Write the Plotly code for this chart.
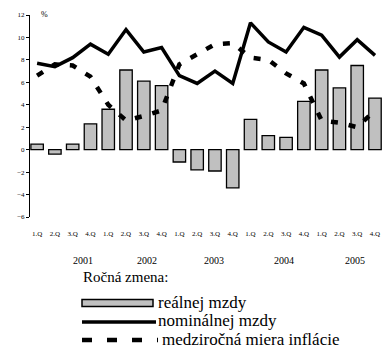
import plotly.graph_objects as go

# Quarterly data, 2001-2005 (year-on-year change, %)
quarters = ["1.Q", "2.Q", "3.Q", "4.Q"] * 5
years = ["2001", "2002", "2003", "2004", "2005"]
real_wage = [0.5, -0.4, 0.5, 2.3, 3.6, 7.1, 6.1, 5.7,
             -1.1, -1.8, -1.9, -3.4, 2.7, 1.25, 1.1, 4.3,
             7.1, 5.5, 7.5, 4.6]
nominal_wage = [7.7, 7.4, 8.2, 9.4, 8.5, 10.7, 8.7, 9.1,
                6.6, 5.9, 7.0, 5.9, 11.3, 9.6, 8.7, 10.9,
                10.2, 8.25, 9.8, 8.4]
inflation = [6.6, 7.6, 7.5, 6.5, 4.0, 2.6, 3.0, 3.5,
             7.6, 8.5, 9.4, 9.5, 8.2, 8.0, 6.8, 5.9,
             2.6, 2.4, 2.0, 3.5]
year_label_pos = [2.6, 6.2, 9.95, 13.9, 17.85]

legend_title = "Ročná zmena:"
legend_names = ["reálnej mzdy", "nominálnej mzdy", "medziročná miera inflácie"]

W, H = 383, 350
M_L, M_R, M_T, M_B = 30, 0, 15, 133
PLOT_W = W - M_L - M_R
PLOT_H = H - M_T - M_B
SERIF = "Liberation Serif"


def px_x(px):
    return (px - M_L) / PLOT_W


def px_y(py):
    return (H - M_B - py) / PLOT_H


idx = list(range(len(quarters)))

fig = go.Figure()
fig.add_trace(go.Bar(
    x=idx, y=real_wage, width=0.7,
    marker=dict(color="#c0c0c0", line=dict(color="black", width=1.3)),
    showlegend=False,
))
fig.add_trace(go.Scatter(
    x=idx, y=nominal_wage, mode="lines",
    line=dict(color="black", width=3.5),
    showlegend=False,
))
fig.add_trace(go.Scatter(
    x=idx, y=inflation, mode="lines",
    line=dict(color="black", width=4.5, dash="7px,11px"),
    showlegend=False,
))

shapes = [
    # legend swatches
    dict(type="rect", xref="paper", yref="paper",
         x0=px_x(82), x1=px_x(153), y0=px_y(306.5), y1=px_y(299.5),
         fillcolor="#c0c0c0", line=dict(color="black", width=1.5)),
    dict(type="line", xref="paper", yref="paper",
         x0=px_x(82), x1=px_x(156), y0=px_y(322), y1=px_y(322),
         line=dict(color="black", width=3.5)),
    dict(type="line", xref="paper", yref="paper",
         x0=px_x(82), x1=px_x(158), y0=px_y(340), y1=px_y(340),
         line=dict(color="black", width=4.5, dash="10px,15px")),
]

annotations = [
    dict(text="%", xref="paper", yref="paper", x=px_x(39), y=px_y(8),
         showarrow=False, font=dict(family=SERIF, size=8, color="black")),
    dict(text=legend_title, xref="paper", yref="paper", x=px_x(81), y=px_y(277),
         xanchor="left", yanchor="middle", showarrow=False,
         font=dict(family=SERIF, size=15, color="black")),
]
for name, py, px in zip(legend_names, [302, 320, 339], [156, 156, 160]):
    annotations.append(dict(
        text=name, xref="paper", yref="paper", x=px_x(px), y=px_y(py),
        xanchor="left", yanchor="middle", showarrow=False,
        font=dict(family=SERIF, size=17, color="black")))
for yr, pos in zip(years, year_label_pos):
    annotations.append(dict(
        text=yr, xref="x", yref="paper", x=pos, y=px_y(260),
        xanchor="center", yanchor="middle", showarrow=False,
        font=dict(family=SERIF, size=10, color="black")))

fig.update_layout(
    width=W, height=H,
    margin=dict(l=M_L, r=M_R, t=M_T, b=M_B),
    paper_bgcolor="white", plot_bgcolor="white",
    bargap=0.3,
    xaxis=dict(
        range=[-0.4, 19.45],
        tickmode="array", tickvals=idx, ticktext=quarters,
        ticks="", showline=False, showgrid=False, zeroline=False,
        ticklabelstandoff=11,
        tickfont=dict(family=SERIF, size=7, color="black"),
    ),
    # axis line at y = 0 with ticks between quarters
    xaxis2=dict(
        overlaying="x", anchor="free", position=6 / 18,
        range=[-0.4, 19.45],
        tickmode="array", tickvals=[i + 0.5 for i in idx],
        ticks="outside", ticklen=3, tickcolor="black", tickwidth=1,
        showticklabels=False, showline=True, linecolor="black", linewidth=1,
        showgrid=False, zeroline=False,
    ),
    yaxis=dict(
        range=[-6, 12], dtick=2,
        ticks="outside", ticklen=3, tickcolor="black", tickwidth=1,
        showline=True, linecolor="black", linewidth=1,
        showgrid=False, zeroline=False,
        tickfont=dict(family=SERIF, size=7, color="black"),
    ),
    shapes=shapes,
    annotations=annotations,
)

fig.write_html("out.html")
